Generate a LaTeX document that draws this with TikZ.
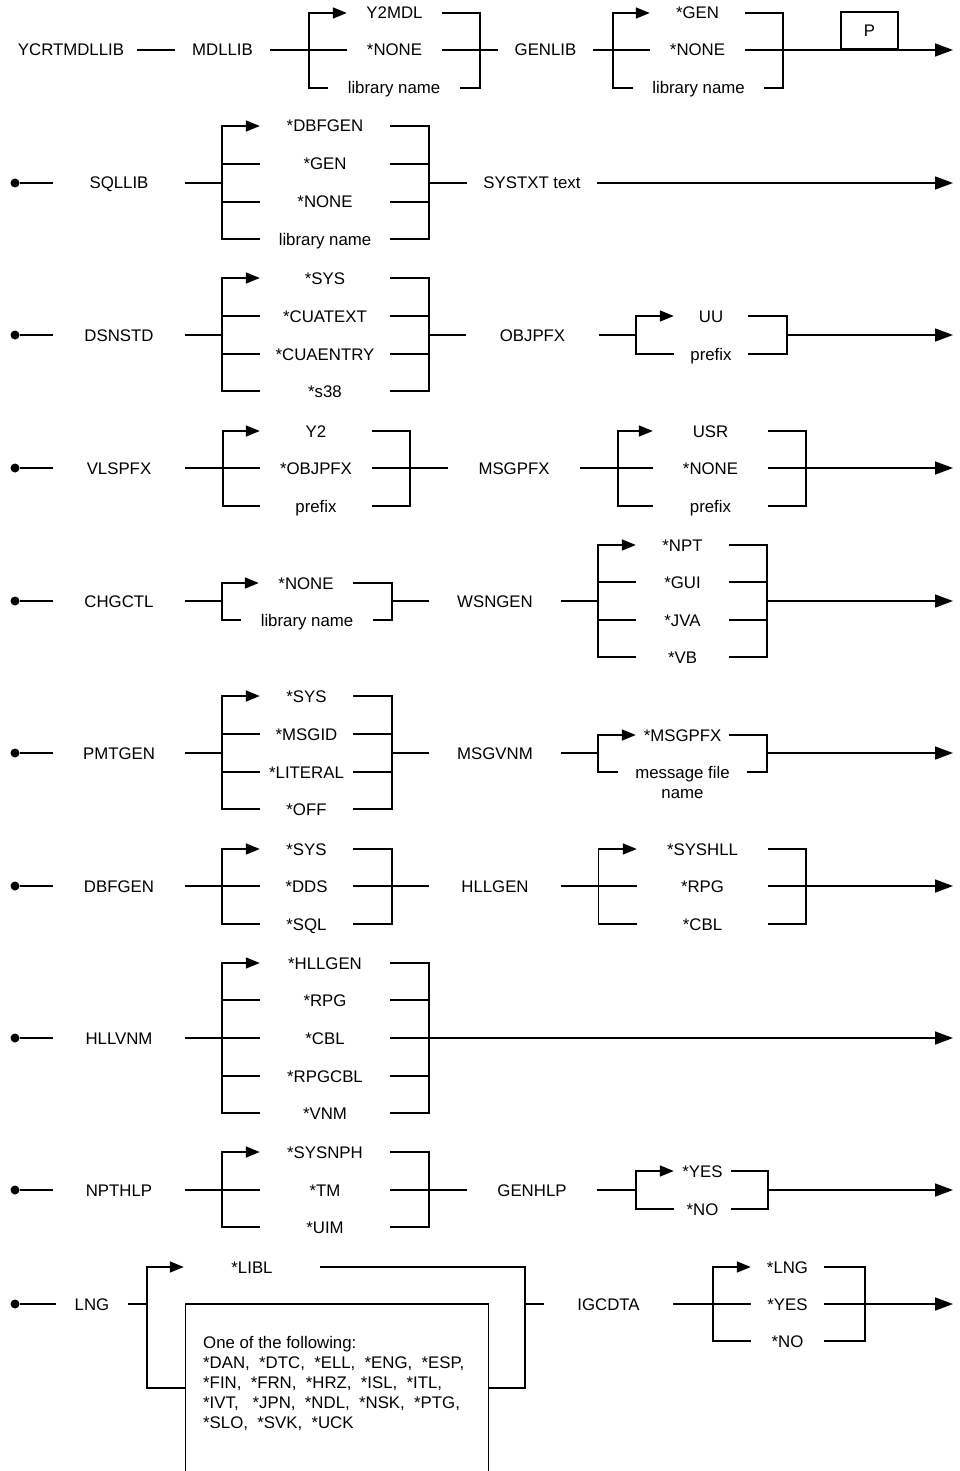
\documentclass[tikz,border=0pt]{standalone}
\usepackage{fontspec}
\setmainfont{Liberation Sans}
\usetikzlibrary{arrows.meta,positioning}
\begin{document}
\begin{tikzpicture}[x=1pt,y=-1pt,every node/.style={font=\fontsize{16.8}{20}\selectfont}]
    \tikzset{
      kw/.style={inner sep=0pt,minimum width=#1,text height=12pt,text depth=0pt},
      opt/.style={inner sep=0pt,minimum width=#1,text height=12pt,text depth=0pt},
      dot/.style={circle,fill=black,inner sep=0pt,minimum size=9pt},
      prop/.style={line width=1.5pt},
      optarr/.style={-{Triangle[length=14pt,width=11pt]},line width=1.5pt},
      arr/.style={-{Triangle[length=18pt,width=13pt]},line width=1.5pt},
      pbox/.style={draw,line width=1.5pt,minimum width=57pt,minimum height=37pt,inner sep=0pt},
      langbox/.style={minimum width=303pt,minimum height=167pt,inner sep=0pt}
    }
    \useasboundingbox (0,0) rectangle (959,1471);

    % YCRTMDLLIB MDLLIB GENLIB
    \node[kw=132pt] (ycrt) at (71,50) {YCRTMDLLIB};
    \node[kw=95pt] (mdllib) at (222.5,50) {MDLLIB};
    \coordinate (mdlL) at (309,50); \coordinate (mdlR) at (480,50);
    \node[opt=95pt] (mdlA) at (394.5,13) {Y2MDL};
    \node[opt=95pt] (mdlB) at (394.5,50) {*NONE};
    \node[opt=132pt] (mdlC) at (394,88) {library name};
    \draw[prop] (ycrt) -- (mdllib);
    \draw[prop] (mdllib) -- (mdlB);
    \draw[optarr] (mdlC.west) -| (mdlL |- mdlA) -- (mdlA.west);
    \draw[prop] (mdlA.east) -| (mdlR |- mdlC) -- (mdlC.east);
    \node[kw=95pt] (genlib) at (545.5,50) {GENLIB};
    \draw[prop] (mdlB) -- (genlib);
    \coordinate (genL) at (613,50); \coordinate (genR) at (783,50);
    \node[opt=95pt] (genA) at (697.5,13) {*GEN};
    \node[opt=95pt] (genB) at (697.5,50) {*NONE};
    \node[opt=131pt] (genC) at (698.5,88) {library name};
    \draw[prop] (genlib) -- (genB);
    \draw[optarr] (genC.west) -| (genL |- genA) -- (genA.west);
    \draw[prop] (genA.east) -| (genR |- genC) -- (genC.east);
    \coordinate (end1) at (953,50);
    \draw[arr] (genB) -- (end1);
    \node[pbox,anchor=south] (p) at (869.5,50) {P};

    % SQLLIB SYSTXT
    \node[dot] (d2) at (15,183) {};
    \node[kw=132pt] (sqllib) at (119,183) {SQLLIB};
    \coordinate (sqlL) at (222,183); \coordinate (sqlR) at (429,183);
    \node[opt=130pt] (sqlA) at (325,126) {*DBFGEN};
    \node[opt=130pt] (sqlB) at (325,164) {*GEN};
    \node[opt=130pt] (sqlC) at (325,202) {*NONE};
    \node[opt=130pt] (sqlD) at (325,239) {library name};
    \draw[prop] (d2) -- (sqllib);
    \draw[prop] (sqllib) -- (sqlL);
    \draw[optarr] (sqlD.west) -| (sqlL |- sqlA) -- (sqlA.west);
    \draw[prop] (sqlL |- sqlB) -- (sqlB.west);
    \draw[prop] (sqlL |- sqlC) -- (sqlC.west);
    \draw[prop] (sqlA.east) -| (sqlR |- sqlD) -- (sqlD.east);
    \draw[prop] (sqlB.east) -- (sqlR |- sqlB);
    \draw[prop] (sqlC.east) -- (sqlR |- sqlC);
    \node[kw=130pt] (systxt) at (532,183) {SYSTXT text};
    \draw[prop] (sqlR) -- (systxt);
    \coordinate (end2) at (953,183);
    \draw[arr] (systxt) -- (end2);

    % DSNSTD OBJPFX
    \node[dot] (d3) at (15,335) {};
    \node[kw=132pt] (dsnstd) at (119,335) {DSNSTD};
    \coordinate (dsnL) at (222,335); \coordinate (dsnR) at (429,335);
    \node[opt=130pt] (dsnA) at (325,278) {*SYS};
    \node[opt=130pt] (dsnB) at (325,316) {*CUATEXT};
    \node[opt=130pt] (dsnC) at (325,354) {*CUAENTRY};
    \node[opt=130pt] (dsnD) at (325,391) {*s38};
    \draw[prop] (d3) -- (dsnstd);
    \draw[prop] (dsnstd) -- (dsnL);
    \draw[optarr] (dsnD.west) -| (dsnL |- dsnA) -- (dsnA.west);
    \draw[prop] (dsnL |- dsnB) -- (dsnB.west);
    \draw[prop] (dsnL |- dsnC) -- (dsnC.west);
    \draw[prop] (dsnA.east) -| (dsnR |- dsnD) -- (dsnD.east);
    \draw[prop] (dsnB.east) -- (dsnR |- dsnB);
    \draw[prop] (dsnC.east) -- (dsnR |- dsnC);
    \node[kw=132pt] (objpfx) at (532.5,335) {OBJPFX};
    \draw[prop] (dsnR) -- (objpfx);
    \coordinate (objL) at (636,335); \coordinate (objR) at (787,335);
    \node[opt=74pt] (objA) at (711,316) {UU};
    \node[opt=74pt] (objB) at (711,354) {prefix};
    \draw[prop] (objpfx) -- (objL);
    \draw[optarr] (objB.west) -| (objL |- objA) -- (objA.west);
    \draw[prop] (objA.east) -| (objR |- objB) -- (objB.east);
    \coordinate (end3) at (953,335);
    \draw[arr] (objR) -- (end3);

    % VLSPFX MSGPFX
    \node[dot] (d4) at (15,468) {};
    \node[kw=132pt] (vlspfx) at (119,468) {VLSPFX};
    \coordinate (vlsL) at (223,468); \coordinate (vlsR) at (410,468);
    \node[opt=112pt] (vlsA) at (316,431) {Y2};
    \node[opt=112pt] (vlsB) at (316,468) {*OBJPFX};
    \node[opt=112pt] (vlsC) at (316,506) {prefix};
    \draw[prop] (d4) -- (vlspfx);
    \draw[prop] (vlspfx) -- (vlsB);
    \draw[optarr] (vlsC.west) -| (vlsL |- vlsA) -- (vlsA.west);
    \draw[prop] (vlsA.east) -| (vlsR |- vlsC) -- (vlsC.east);
    \node[kw=132pt] (msgpfx) at (514,468) {MSGPFX};
    \draw[prop] (vlsB) -- (msgpfx);
    \coordinate (mpfL) at (618,468); \coordinate (mpfR) at (806,468);
    \node[opt=115pt] (mpfA) at (710.5,431) {USR};
    \node[opt=115pt] (mpfB) at (710.5,468) {*NONE};
    \node[opt=115pt] (mpfC) at (710.5,506) {prefix};
    \draw[prop] (msgpfx) -- (mpfB);
    \draw[optarr] (mpfC.west) -| (mpfL |- mpfA) -- (mpfA.west);
    \draw[prop] (mpfA.east) -| (mpfR |- mpfC) -- (mpfC.east);
    \coordinate (end4) at (953,468);
    \draw[arr] (mpfB) -- (end4);

    % CHGCTL WSNGEN
    \node[dot] (d5) at (15,601) {};
    \node[kw=132pt] (chgctl) at (119,601) {CHGCTL};
    \coordinate (chgL) at (222,601); \coordinate (chgR) at (392,601);
    \node[opt=94pt] (chgA) at (306,583) {*NONE};
    \node[opt=132pt] (chgB) at (307,620) {library name};
    \draw[prop] (d5) -- (chgctl);
    \draw[prop] (chgctl) -- (chgL);
    \draw[optarr] (chgB.west) -| (chgL |- chgA) -- (chgA.west);
    \draw[prop] (chgA.east) -| (chgR |- chgB) -- (chgB.east);
    \node[kw=132pt] (wsngen) at (495,601) {WSNGEN};
    \draw[prop] (chgR) -- (wsngen);
    \coordinate (wsnL) at (598,601); \coordinate (wsnR) at (767,601);
    \node[opt=93pt] (wsnA) at (682.5,545) {*NPT};
    \node[opt=93pt] (wsnB) at (682.5,582) {*GUI};
    \node[opt=93pt] (wsnC) at (682.5,620) {*JVA};
    \node[opt=93pt] (wsnD) at (682.5,657) {*VB};
    \draw[prop] (wsngen) -- (wsnL);
    \draw[optarr] (wsnD.west) -| (wsnL |- wsnA) -- (wsnA.west);
    \draw[prop] (wsnL |- wsnB) -- (wsnB.west);
    \draw[prop] (wsnL |- wsnC) -- (wsnC.west);
    \draw[prop] (wsnA.east) -| (wsnR |- wsnD) -- (wsnD.east);
    \draw[prop] (wsnB.east) -- (wsnR |- wsnB);
    \draw[prop] (wsnC.east) -- (wsnR |- wsnC);
    \coordinate (end5) at (953,601);
    \draw[arr] (wsnR) -- (end5);

    % PMTGEN MSGVNM
    \node[dot] (d6) at (15,753) {};
    \node[kw=132pt] (pmtgen) at (119,753) {PMTGEN};
    \coordinate (pmtL) at (222,753); \coordinate (pmtR) at (392,753);
    \node[opt=93pt] (pmtA) at (306.5,696) {*SYS};
    \node[opt=93pt] (pmtB) at (306.5,734) {*MSGID};
    \node[opt=93pt] (pmtC) at (306.5,772) {*LITERAL};
    \node[opt=93pt] (pmtD) at (306.5,809) {*OFF};
    \draw[prop] (d6) -- (pmtgen);
    \draw[prop] (pmtgen) -- (pmtL);
    \draw[optarr] (pmtD.west) -| (pmtL |- pmtA) -- (pmtA.west);
    \draw[prop] (pmtL |- pmtB) -- (pmtB.west);
    \draw[prop] (pmtL |- pmtC) -- (pmtC.west);
    \draw[prop] (pmtA.east) -| (pmtR |- pmtD) -- (pmtD.east);
    \draw[prop] (pmtB.east) -- (pmtR |- pmtB);
    \draw[prop] (pmtC.east) -- (pmtR |- pmtC);
    \node[kw=132pt] (msgvnm) at (495,753) {MSGVNM};
    \draw[prop] (pmtR) -- (msgvnm);
    \coordinate (mvnL) at (598,753); \coordinate (mvnR) at (767,753);
    \node[opt=93pt] (mvnA) at (682.5,735) {*MSGPFX};
    \node[opt=129pt] (mvnB) at (682.5,772) {message file};
    \node[opt=129pt,below=8pt of mvnB] (mvnC) {name};
    \draw[prop] (msgvnm) -- (mvnL);
    \draw[optarr] (mvnB.west) -| (mvnL |- mvnA) -- (mvnA.west);
    \draw[prop] (mvnA.east) -| (mvnR |- mvnB) -- (mvnB.east);
    \coordinate (end6) at (953,753);
    \draw[arr] (mvnR) -- (end6);

    % DBFGEN HLLGEN
    \node[dot] (d7) at (15,886) {};
    \node[kw=132pt] (dbfgen) at (119,886) {DBFGEN};
    \coordinate (dbfL) at (222,886); \coordinate (dbfR) at (392,886);
    \node[opt=93pt] (dbfA) at (306.5,849) {*SYS};
    \node[opt=93pt] (dbfB) at (306.5,886) {*DDS};
    \node[opt=93pt] (dbfC) at (306.5,924) {*SQL};
    \draw[prop] (d7) -- (dbfgen);
    \draw[prop] (dbfgen) -- (dbfB);
    \draw[optarr] (dbfC.west) -| (dbfL |- dbfA) -- (dbfA.west);
    \draw[prop] (dbfA.east) -| (dbfR |- dbfC) -- (dbfC.east);
    \node[kw=132pt] (hllgen) at (495,886) {HLLGEN};
    \draw[prop] (dbfB) -- (hllgen);
    \coordinate (hlgL) at (598.5,886); \coordinate (hlgR) at (806,886);
    \node[opt=131pt] (hlgA) at (702.5,849) {*SYSHLL};
    \node[opt=131pt] (hlgB) at (702.5,886) {*RPG};
    \node[opt=131pt] (hlgC) at (702.5,924) {*CBL};
    \draw[prop] (hllgen) -- (hlgB);
    \draw[optarr] (hlgC.west) -| (hlgL |- hlgA) -- (hlgA.west);
    \draw[prop] (hlgA.east) -| (hlgR |- hlgC) -- (hlgC.east);
    \coordinate (end7) at (953,886);
    \draw[arr] (hlgB) -- (end7);

    % HLLVNM
    \node[dot] (d8) at (15,1038) {};
    \node[kw=132pt] (hllvnm) at (119,1038) {HLLVNM};
    \coordinate (hlvL) at (222,1038); \coordinate (hlvR) at (429,1038);
    \node[opt=130pt] (hlvA) at (325,963) {*HLLGEN};
    \node[opt=130pt] (hlvB) at (325,1000) {*RPG};
    \node[opt=130pt] (hlvC) at (325,1038) {*CBL};
    \node[opt=130pt] (hlvD) at (325,1076) {*RPGCBL};
    \node[opt=130pt] (hlvE) at (325,1113) {*VNM};
    \draw[prop] (d8) -- (hllvnm);
    \draw[prop] (hllvnm) -- (hlvC);
    \draw[optarr] (hlvE.west) -| (hlvL |- hlvA) -- (hlvA.west);
    \draw[prop] (hlvL |- hlvB) -- (hlvB.west);
    \draw[prop] (hlvL |- hlvD) -- (hlvD.west);
    \draw[prop] (hlvA.east) -| (hlvR |- hlvE) -- (hlvE.east);
    \draw[prop] (hlvB.east) -- (hlvR |- hlvB);
    \draw[prop] (hlvD.east) -- (hlvR |- hlvD);
    \coordinate (end8) at (953,1038);
    \draw[arr] (hlvC) -- (end8);

    % NPTHLP GENHLP
    \node[dot] (d9) at (15,1190) {};
    \node[kw=132pt] (npthlp) at (119,1190) {NPTHLP};
    \coordinate (nptL) at (222,1190); \coordinate (nptR) at (429,1190);
    \node[opt=130pt] (nptA) at (325,1152) {*SYSNPH};
    \node[opt=130pt] (nptB) at (325,1190) {*TM};
    \node[opt=130pt] (nptC) at (325,1227) {*UIM};
    \draw[prop] (d9) -- (npthlp);
    \draw[prop] (npthlp) -- (nptB);
    \draw[optarr] (nptC.west) -| (nptL |- nptA) -- (nptA.west);
    \draw[prop] (nptA.east) -| (nptR |- nptC) -- (nptC.east);
    \node[kw=130pt] (genhlp) at (532,1190) {GENHLP};
    \draw[prop] (nptB) -- (genhlp);
    \coordinate (ghpL) at (636,1190); \coordinate (ghpR) at (768,1190);
    \node[opt=57pt] (ghpA) at (702.5,1171) {*YES};
    \node[opt=57pt] (ghpB) at (702.5,1209) {*NO};
    \draw[prop] (genhlp) -- (ghpL);
    \draw[optarr] (ghpB.west) -| (ghpL |- ghpA) -- (ghpA.west);
    \draw[prop] (ghpA.east) -| (ghpR |- ghpB) -- (ghpB.east);
    \coordinate (end9) at (953,1190);
    \draw[arr] (ghpR) -- (end9);

    % LNG IGCDTA
    \node[dot] (d10) at (15,1304) {};
    \node[kw=72pt] (lng) at (92,1304) {LNG};
    \coordinate (lngL) at (147,1304); \coordinate (lngR) at (525,1304);
    \coordinate (lngY) at (0,1388);
    \node[opt=136pt] (lngA) at (252,1267) {*LIBL};
    \node[langbox,anchor=north] (lngB) at (337,1304) {};
    \draw[prop] (lngB.south west) -- (lngB.north west) -- (lngB.north east) -- (lngB.south east);
    \node[anchor=north west,align=left,inner sep=0pt] (lngT) at (203,1336)
      {One of the following:\\
      *DAN,\ \ *DTC,\ \ *ELL,\ \ *ENG,\ \ *ESP,\\
      *FIN,\ \ *FRN,\ \ *HRZ,\ \ *ISL,\ \ *ITL,\\
      *IVT,\ \ \ *JPN,\ \ *NDL,\ \ *NSK,\ \ *PTG,\\
      *SLO,\ \ *SVK,\ \ *UCK};
    \draw[prop] (d10) -- (lng);
    \draw[prop] (lng) -- (lngL);
    \draw[optarr] (lngB.west |- lngY) -| (lngL |- lngA) -- (lngA.west);
    \draw[prop] (lngA.east) -| (lngR |- lngY) -- (lngB.east |- lngY);
    \node[kw=129pt] (igcdta) at (608.5,1304) {IGCDTA};
    \draw[prop] (lngR) -- (igcdta);
    \coordinate (igcL) at (713,1304); \coordinate (igcR) at (865,1304);
    \node[opt=73pt] (igcA) at (787.5,1267) {*LNG};
    \node[opt=73pt] (igcB) at (787.5,1304) {*YES};
    \node[opt=73pt] (igcC) at (787.5,1341) {*NO};
    \draw[prop] (igcdta) -- (igcB);
    \draw[optarr] (igcC.west) -| (igcL |- igcA) -- (igcA.west);
    \draw[prop] (igcA.east) -| (igcR |- igcC) -- (igcC.east);
    \coordinate (end10) at (953,1304);
    \draw[arr] (igcB) -- (end10);
  \end{tikzpicture}
\end{document}
